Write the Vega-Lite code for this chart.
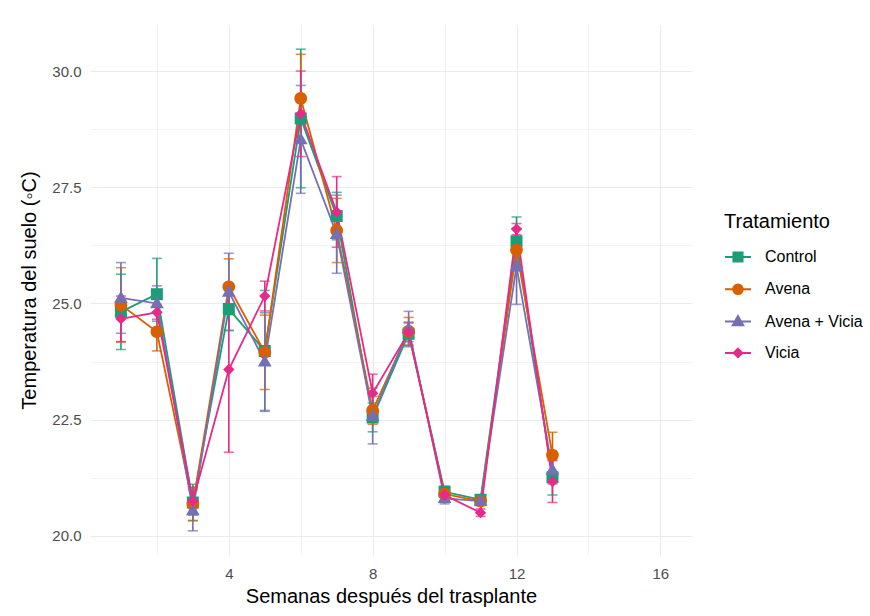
{
  "$schema": "https://vega.github.io/schema/vega-lite/v6.json",
  "autosize": "none",
  "width": 602,
  "height": 530,
  "padding": {"left": 90, "top": 25, "right": 178, "bottom": 61},
  "background": "white",
  "config": {
    "font": "Liberation Sans",
    "view": {"stroke": null},
    "axis": {"domain": false, "ticks": false, "gridColor": "#EBEBEB", "labelColor": "#4D4D4D", "labelFontSize": 15, "titleColor": "#000000", "titleFontSize": 20, "titleFontWeight": "normal"},
    "legend": {"titleFontWeight": "normal", "titleFontSize": 20, "labelFontSize": 16, "labelColor": "#000000", "titleColor": "#000000", "symbolOpacity": 1}
  },
  "data": {"values": [
    {"week": 1, "trat": "Control", "mean": 24.82, "lo": 24.01, "hi": 25.63},
    {"week": 2, "trat": "Control", "mean": 25.2, "lo": 24.43, "hi": 25.97},
    {"week": 3, "trat": "Control", "mean": 20.72, "lo": 20.33, "hi": 21.11},
    {"week": 4, "trat": "Control", "mean": 24.88, "lo": 24.42, "hi": 25.34},
    {"week": 5, "trat": "Control", "mean": 23.98, "lo": 22.68, "hi": 25.28},
    {"week": 6, "trat": "Control", "mean": 28.98, "lo": 27.49, "hi": 30.47},
    {"week": 7, "trat": "Control", "mean": 26.88, "lo": 26.37, "hi": 27.39},
    {"week": 8, "trat": "Control", "mean": 22.55, "lo": 22.24, "hi": 22.86},
    {"week": 9, "trat": "Control", "mean": 24.35, "lo": 24.1, "hi": 24.6},
    {"week": 10, "trat": "Control", "mean": 20.95, "lo": 20.83, "hi": 21.07},
    {"week": 11, "trat": "Control", "mean": 20.78, "lo": 20.68, "hi": 20.88},
    {"week": 12, "trat": "Control", "mean": 26.34, "lo": 25.82, "hi": 26.86},
    {"week": 13, "trat": "Control", "mean": 21.26, "lo": 20.88, "hi": 21.64},
    {"week": 1, "trat": "Avena", "mean": 24.97, "lo": 24.17, "hi": 25.77},
    {"week": 2, "trat": "Avena", "mean": 24.39, "lo": 23.98, "hi": 24.8},
    {"week": 3, "trat": "Avena", "mean": 20.68, "lo": 20.33, "hi": 21.03},
    {"week": 4, "trat": "Avena", "mean": 25.36, "lo": 24.76, "hi": 25.96},
    {"week": 5, "trat": "Avena", "mean": 23.95, "lo": 23.15, "hi": 24.75},
    {"week": 6, "trat": "Avena", "mean": 29.41, "lo": 28.46, "hi": 30.36},
    {"week": 7, "trat": "Avena", "mean": 26.57, "lo": 25.88, "hi": 27.26},
    {"week": 8, "trat": "Avena", "mean": 22.7, "lo": 22.4, "hi": 23.0},
    {"week": 9, "trat": "Avena", "mean": 24.4, "lo": 24.1, "hi": 24.7},
    {"week": 10, "trat": "Avena", "mean": 20.9, "lo": 20.75, "hi": 21.05},
    {"week": 11, "trat": "Avena", "mean": 20.75, "lo": 20.65, "hi": 20.85},
    {"week": 12, "trat": "Avena", "mean": 26.15, "lo": 25.7, "hi": 26.6},
    {"week": 13, "trat": "Avena", "mean": 21.74, "lo": 21.25, "hi": 22.23},
    {"week": 1, "trat": "Avena + Vicia", "mean": 25.12, "lo": 24.36, "hi": 25.88},
    {"week": 2, "trat": "Avena + Vicia", "mean": 25.0, "lo": 24.62, "hi": 25.38},
    {"week": 3, "trat": "Avena + Vicia", "mean": 20.55, "lo": 20.11, "hi": 20.99},
    {"week": 4, "trat": "Avena + Vicia", "mean": 25.25, "lo": 24.42, "hi": 26.08},
    {"week": 5, "trat": "Avena + Vicia", "mean": 23.75, "lo": 22.7, "hi": 24.8},
    {"week": 6, "trat": "Avena + Vicia", "mean": 28.53, "lo": 27.37, "hi": 29.69},
    {"week": 7, "trat": "Avena + Vicia", "mean": 26.49, "lo": 25.65, "hi": 27.33},
    {"week": 8, "trat": "Avena + Vicia", "mean": 22.58, "lo": 21.98, "hi": 23.18},
    {"week": 9, "trat": "Avena + Vicia", "mean": 24.45, "lo": 24.07, "hi": 24.83},
    {"week": 10, "trat": "Avena + Vicia", "mean": 20.81, "lo": 20.69, "hi": 20.93},
    {"week": 11, "trat": "Avena + Vicia", "mean": 20.75, "lo": 20.67, "hi": 20.83},
    {"week": 12, "trat": "Avena + Vicia", "mean": 25.8, "lo": 24.98, "hi": 26.62},
    {"week": 13, "trat": "Avena + Vicia", "mean": 21.42, "lo": 21.12, "hi": 21.72},
    {"week": 1, "trat": "Vicia", "mean": 24.67, "lo": 24.18, "hi": 25.16},
    {"week": 2, "trat": "Vicia", "mean": 24.81, "lo": 24.66, "hi": 24.96},
    {"week": 3, "trat": "Vicia", "mean": 20.75, "lo": 20.45, "hi": 21.05},
    {"week": 4, "trat": "Vicia", "mean": 23.58, "lo": 21.8, "hi": 25.36},
    {"week": 5, "trat": "Vicia", "mean": 25.16, "lo": 24.84, "hi": 25.48},
    {"week": 6, "trat": "Vicia", "mean": 29.08, "lo": 28.16, "hi": 30.0},
    {"week": 7, "trat": "Vicia", "mean": 26.97, "lo": 26.21, "hi": 27.73},
    {"week": 8, "trat": "Vicia", "mean": 23.07, "lo": 22.66, "hi": 23.48},
    {"week": 9, "trat": "Vicia", "mean": 24.38, "lo": 24.18, "hi": 24.58},
    {"week": 10, "trat": "Vicia", "mean": 20.88, "lo": 20.76, "hi": 21.0},
    {"week": 11, "trat": "Vicia", "mean": 20.5, "lo": 20.42, "hi": 20.58},
    {"week": 12, "trat": "Vicia", "mean": 26.6, "lo": 26.48, "hi": 26.72},
    {"week": 13, "trat": "Vicia", "mean": 21.17, "lo": 20.72, "hi": 21.62}
  ]},
  "encoding": {
    "x": {
      "field": "week", "type": "quantitative",
      "scale": {"domain": [0.14, 16.88], "nice": false, "zero": false},
      "axis": {
        "title": "Semanas después del trasplante",
        "values": [2, 4, 6, 8, 10, 12, 14, 16],
        "labelExpr": "datum.value % 4 == 0 ? datum.label : ''",
        "gridWidth": {"condition": {"test": "datum.value % 4 == 0", "value": 1.1}, "value": 0.6},
        "labelPadding": 11, "titlePadding": 5
      }
    },
    "y": {
      "field": "mean", "type": "quantitative",
      "scale": {"domain": [19.59, 30.99], "nice": false, "zero": false},
      "axis": {
        "title": "Temperatura del suelo (◦C)",
        "values": [20, 21.25, 22.5, 23.75, 25, 26.25, 27.5, 28.75, 30],
        "labelExpr": "datum.value % 2.5 == 0 ? format(datum.value, '.1f') : ''",
        "gridWidth": {"condition": {"test": "datum.value % 2.5 == 0", "value": 1.1}, "value": 0.6},
        "labelPadding": 9, "titlePadding": 12
      }
    },
    "color": {
      "field": "trat", "type": "nominal",
      "scale": {"domain": ["Control", "Avena", "Avena + Vicia", "Vicia"], "range": ["#1B9E77", "#D95F02", "#7570B3", "#E7298A"]},
      "legend": {"title": "Tratamiento", "orient": "none", "legendX": 634, "legendY": 187, "symbolSize": 676, "symbolStrokeWidth": 2, "symbolOpacity": 1, "labelOffset": 13, "rowPadding": 9.3, "titlePadding": 11}
    }
  },
  "layer": [
    {
      "mark": {"type": "rule", "strokeWidth": 1.6},
      "encoding": {"y": {"field": "lo", "type": "quantitative"}, "y2": {"field": "hi"}}
    },
    {
      "mark": {"type": "tick", "orient": "horizontal", "size": 10, "thickness": 1.6},
      "encoding": {"y": {"field": "lo", "type": "quantitative"}}
    },
    {
      "mark": {"type": "tick", "orient": "horizontal", "size": 10, "thickness": 1.6},
      "encoding": {"y": {"field": "hi", "type": "quantitative"}}
    },
    {
      "mark": {"type": "line", "strokeWidth": 1.8},
      "encoding": {}
    },
    {
      "mark": {"type": "point", "filled": true, "opacity": 1, "size": 1176},
      "encoding": {
        "shape": {
          "field": "trat", "type": "nominal",
          "scale": {"domain": ["Control", "Avena", "Avena + Vicia", "Vicia"], "range": ["M-1,0H1M-0.35,-0.35H0.35V0.35H-0.35Z", "M-1,0H1M0.37,0A0.37,0.37 0 1,1 -0.37,0A0.37,0.37 0 1,1 0.37,0Z", "M-1,0H1M0,-0.42L0.4,0.28L-0.4,0.28Z", "M-1,0H1M0,-0.33L0.33,0L0,0.33L-0.33,0Z"]},
          "legend": {"title": "Tratamiento", "orient": "none", "legendX": 634, "legendY": 187, "symbolSize": 676, "symbolStrokeWidth": 2, "symbolOpacity": 1, "labelOffset": 13, "rowPadding": 9.3, "titlePadding": 11}
        }
      }
    },
    {
      "transform": [{"filter": "false"}],
      "mark": {"type": "point", "filled": true, "opacity": 1, "strokeWidth": 2},
      "encoding": {
        "color": null,
        "fill": {
          "field": "trat", "type": "nominal",
          "scale": {"domain": ["Control", "Avena", "Avena + Vicia", "Vicia"], "range": ["#1B9E77", "#D95F02", "#7570B3", "#E7298A"]},
          "legend": {"title": "Tratamiento", "orient": "none", "legendX": 634, "legendY": 187, "symbolSize": 676, "symbolStrokeWidth": 2, "symbolOpacity": 1, "labelOffset": 13, "rowPadding": 9.3, "titlePadding": 11}
        },
        "stroke": {
          "field": "trat", "type": "nominal",
          "scale": {"domain": ["Control", "Avena", "Avena + Vicia", "Vicia"], "range": ["#1B9E77", "#D95F02", "#7570B3", "#E7298A"]},
          "legend": {"title": "Tratamiento", "orient": "none", "legendX": 634, "legendY": 187, "symbolSize": 676, "symbolStrokeWidth": 2, "symbolOpacity": 1, "labelOffset": 13, "rowPadding": 9.3, "titlePadding": 11}
        },
        "shape": {
          "field": "trat", "type": "nominal",
          "legend": {"title": "Tratamiento", "orient": "none", "legendX": 634, "legendY": 187, "symbolSize": 676, "symbolStrokeWidth": 2, "symbolOpacity": 1, "labelOffset": 13, "rowPadding": 9.3, "titlePadding": 11}
        }
      }
    }
  ]
}
